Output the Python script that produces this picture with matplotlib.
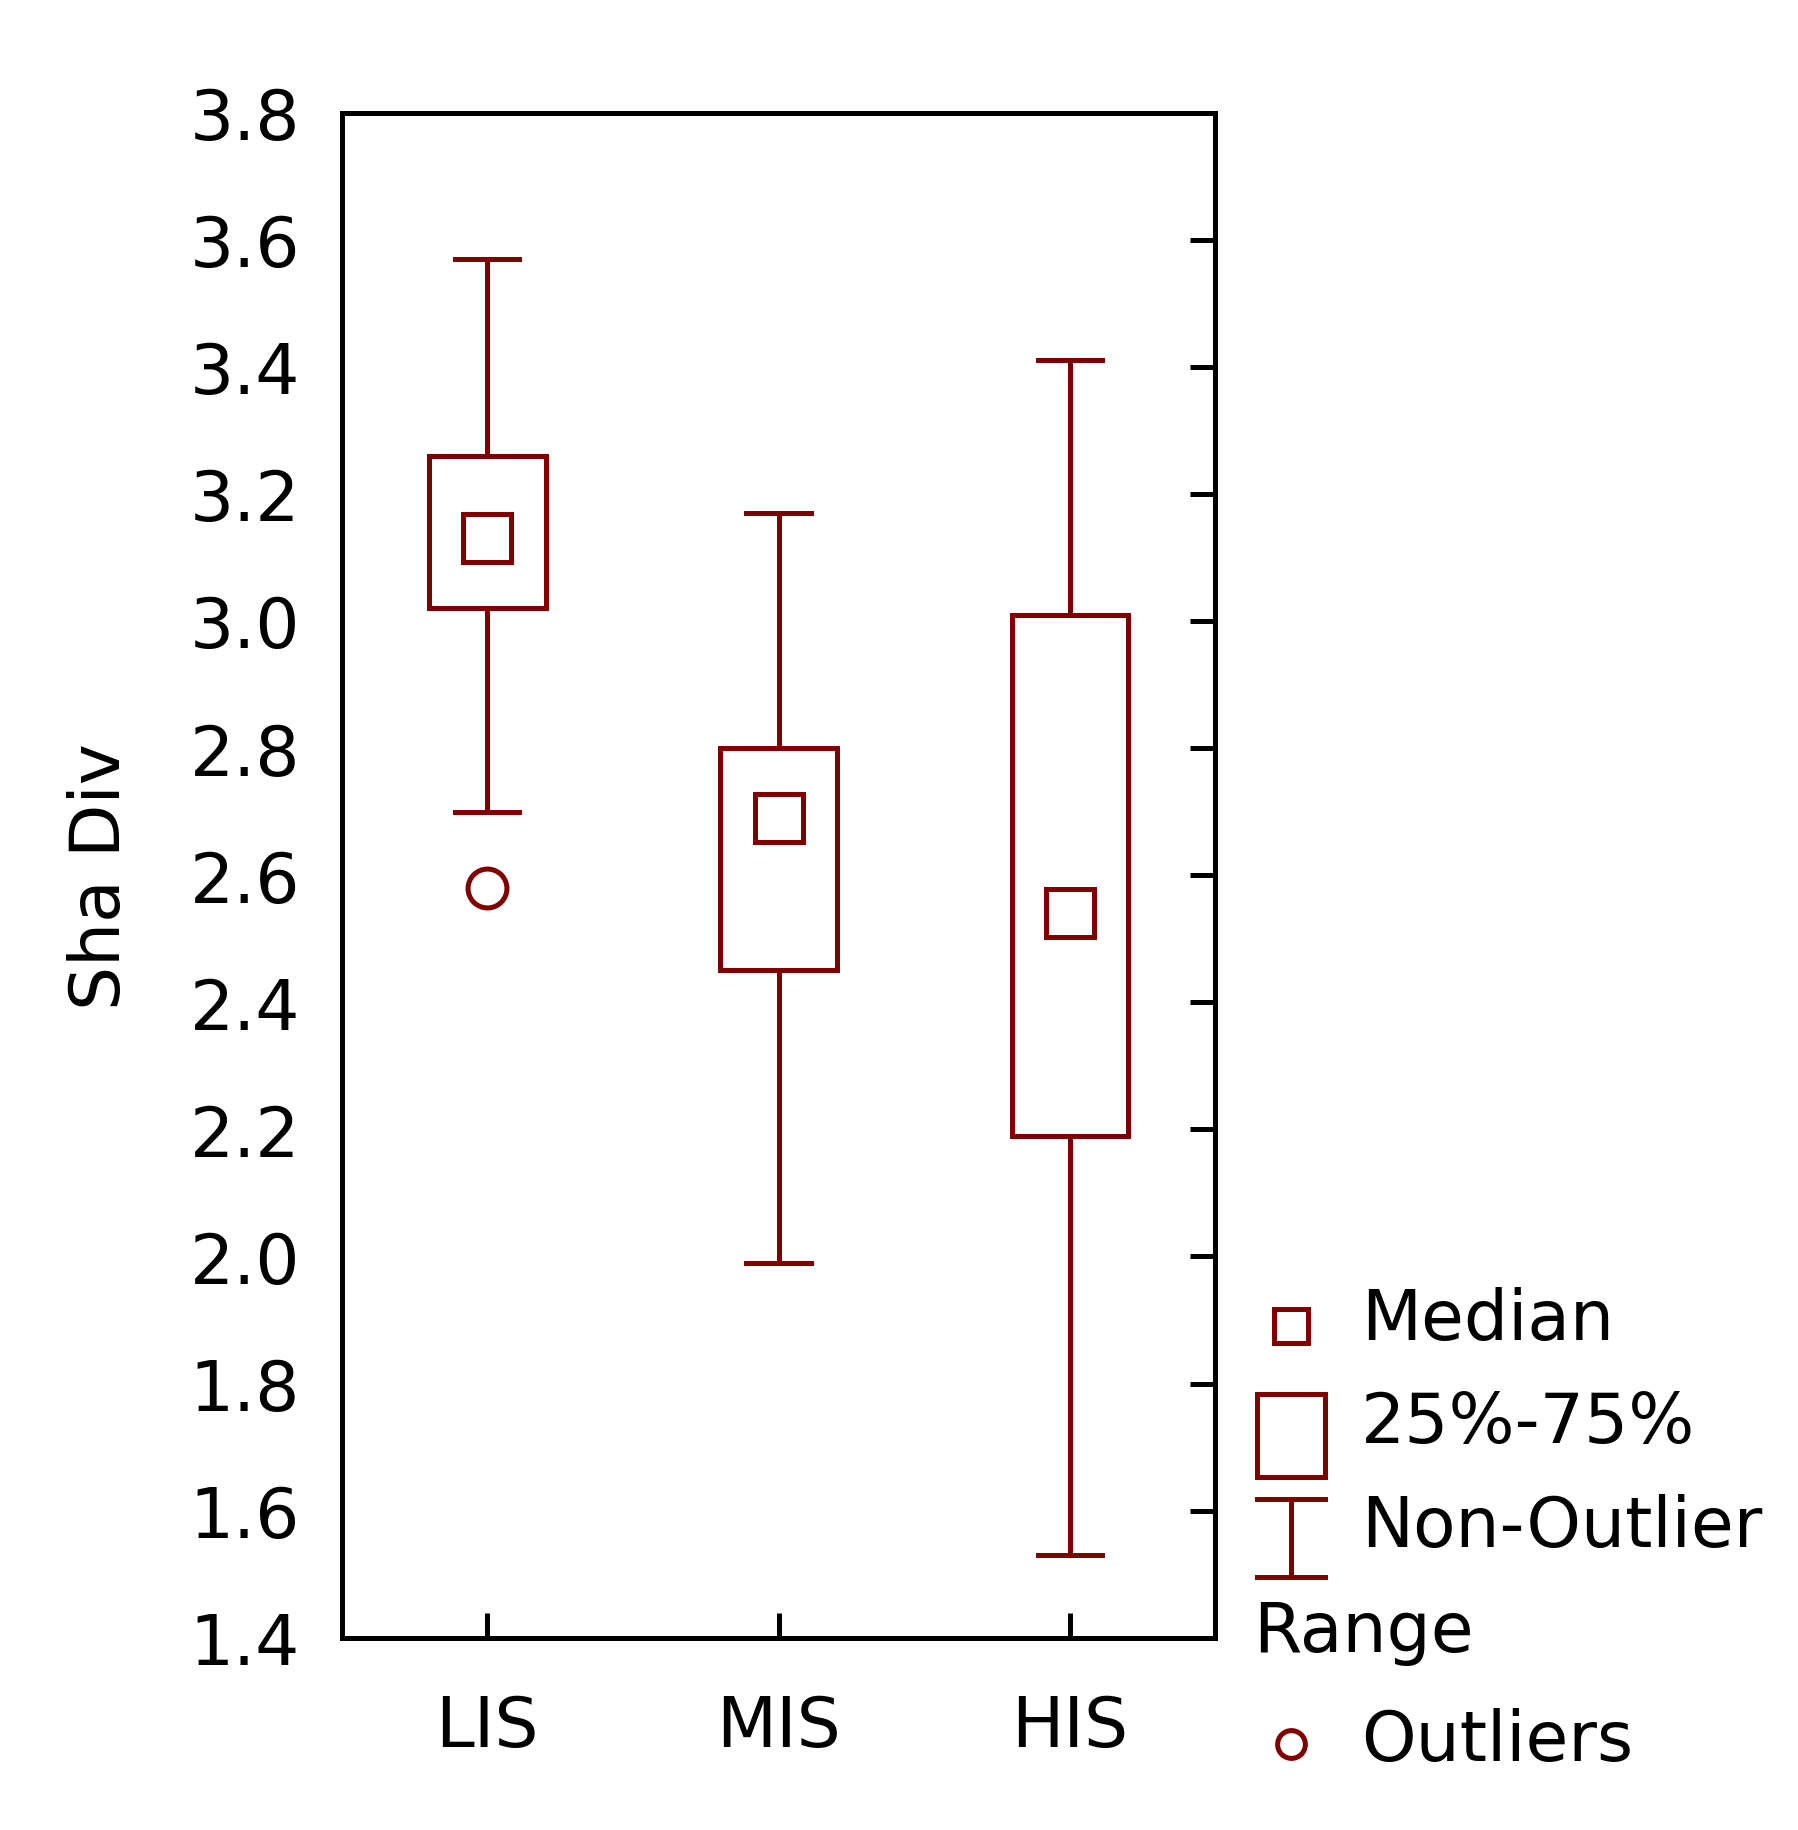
import matplotlib
matplotlib.use("Agg")
import matplotlib.pyplot as plt
from matplotlib.patches import Rectangle
from matplotlib.lines import Line2D

groups = ["LIS", "MIS", "HIS"]
whisk_lo = [2.70, 1.99, 1.53]
whisk_hi = [3.57, 3.17, 3.41]
q1 = [3.02, 2.45, 2.19]
q3 = [3.26, 2.80, 3.01]
medians = [3.13, 2.69, 2.54]
outliers = [(0, 2.58)]

RED = "#800000"
LW = 3.6

fig = plt.figure(figsize=(17.98, 18.31), dpi=100)
ax = fig.add_axes([0.19, 0.105, 0.486, 0.833])
pos = [1, 2, 3]
bw = 0.4
cw = 0.22
for i, p in enumerate(pos):
    ax.add_patch(Rectangle((p - bw / 2, q1[i]), bw, q3[i] - q1[i], fill=False, ec=RED, lw=LW, zorder=2))
    ax.plot([p, p], [whisk_lo[i], q1[i]], color=RED, lw=LW)
    ax.plot([p, p], [q3[i], whisk_hi[i]], color=RED, lw=LW)
    ax.plot([p - cw / 2, p + cw / 2], [whisk_lo[i]] * 2, color=RED, lw=LW)
    ax.plot([p - cw / 2, p + cw / 2], [whisk_hi[i]] * 2, color=RED, lw=LW)
    ax.plot(p, medians[i], "s", ms=34, mfc="white", mec=RED, mew=LW, zorder=3)
for i, v in outliers:
    ax.plot(pos[i], v, "o", ms=28, mfc="none", mec=RED, mew=LW)

ax.set_xlim(0.5, 3.5)
ax.set_ylim(1.4, 3.8)
ax.set_yticks([1.4 + 0.2 * k for k in range(13)])
ax.set_yticklabels([f"{1.4 + 0.2 * k:.1f}" for k in range(13)])
ax.set_xticks(pos)
ax.set_xticklabels(groups)
ax.tick_params(axis="y", left=False, right=True, direction="in", length=18, width=LW,
               labelsize=50, pad=30)
ax.tick_params(axis="x", direction="in", length=18, width=LW, labelsize=50, pad=40)
for s in ax.spines.values():
    s.set_linewidth(LW)
ax.set_ylabel("Sha Div", fontsize=50, labelpad=40)

# legend drawn by hand
fx = 0.718
fig.add_artist(Line2D([fx], [0.275], marker="s", ms=24, mfc="white", mec=RED, mew=LW,
                      transform=fig.transFigure))
fig.text(0.757, 0.268, "Median", fontsize=50)
fig.add_artist(Rectangle((0.699, 0.193), 0.038, 0.045, fill=False, ec=RED, lw=LW,
                         transform=fig.transFigure))
fig.text(0.757, 0.212, "25%-75%", fontsize=50)
fig.add_artist(Line2D([fx, fx], [0.138, 0.181], color=RED, lw=LW, transform=fig.transFigure))
fig.add_artist(Line2D([0.699, 0.737], [0.181, 0.181], color=RED, lw=LW, transform=fig.transFigure))
fig.add_artist(Line2D([0.699, 0.737], [0.138, 0.138], color=RED, lw=LW, transform=fig.transFigure))
fig.text(0.757, 0.155, "Non-Outlier", fontsize=50)
fig.text(0.697, 0.098, "Range", fontsize=50)
fig.add_artist(Line2D([fx], [0.047], marker="o", ms=20, mfc="none", mec=RED, mew=LW,
                      transform=fig.transFigure))
fig.text(0.757, 0.038, "Outliers", fontsize=50)

fig.savefig("out.png", dpi=100)
